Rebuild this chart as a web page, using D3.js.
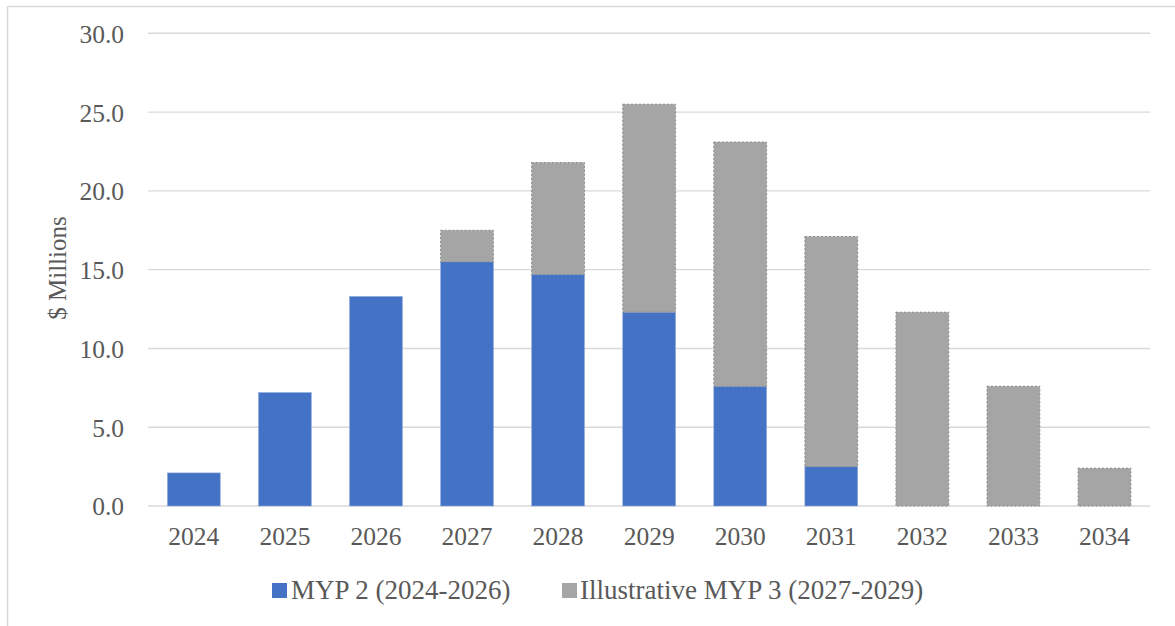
<!DOCTYPE html>
<html>
<head>
<meta charset="utf-8">
<script src="https://cdn.jsdelivr.net/npm/d3@7"></script>
<style>
  html, body { margin: 0; padding: 0; background: #fff; }
  svg { display: block; }
  text { font-family: "Liberation Serif", "Times New Roman", serif; fill: #595959; }
</style>
</head>
<body>
<svg id="chart" width="1175" height="626"></svg>
<script>
const years = ["2024","2025","2026","2027","2028","2029","2030","2031","2032","2033","2034"];
const myp2 = [2.1, 7.2, 13.3, 15.5, 14.7, 12.3, 7.6, 2.5, 0, 0, 0];
const myp3 = [0, 0, 0, 2.0, 7.1, 13.2, 15.5, 14.6, 12.3, 7.6, 2.4];
const seriesNames = ["MYP 2 (2024-2026)", "Illustrative MYP 3 (2027-2029)"];
const seriesColors = ["#4472C4", "#A5A5A5"];
const yTicks = [0, 5, 10, 15, 20, 25, 30];

const svg = d3.select("#chart");
const W = 1175, H = 626;
const plot = { left: 148.3, right: 1150, top: 33.3, bottom: 506 };

// frame
svg.append("line").attr("x1", 7.5).attr("x2", 7.5).attr("y1", 6.5).attr("y2", H)
  .attr("stroke", "#d9d9d9").attr("stroke-width", 1.5);
svg.append("line").attr("x1", 7.5).attr("x2", W).attr("y1", 6.5).attr("y2", 6.5)
  .attr("stroke", "#d9d9d9").attr("stroke-width", 1.5);

const x = d3.scaleBand().domain(years).range([plot.left, plot.right])
  .paddingInner(0.42).paddingOuter(0.21);
const y = d3.scaleLinear().domain([0, 30]).range([plot.bottom, plot.top]);

// gridlines
svg.append("g").selectAll("line").data(yTicks).join("line")
  .attr("x1", plot.left).attr("x2", plot.right)
  .attr("y1", d => y(d)).attr("y2", d => y(d))
  .attr("stroke", "#d9d9d9").attr("stroke-width", 1.4);

// y axis labels
const yAxis = d3.axisLeft(y).tickValues(yTicks).tickFormat(d3.format(".1f")).tickSize(0).tickPadding(0);
const gy = svg.append("g").attr("transform", `translate(${124},0)`).call(yAxis);
gy.select(".domain").remove();
gy.selectAll("text").attr("font-size", 25.5).attr("fill", "#595959")
  .style("font-family", '"Liberation Serif", serif').attr("dy", "0.35em");

// x axis labels
const xAxis = d3.axisBottom(x).tickSize(0).tickPadding(0);
const gx = svg.append("g").attr("transform", `translate(0,${527})`).call(xAxis);
gx.select(".domain").remove();
gx.selectAll("text").attr("font-size", 25.5).attr("fill", "#595959")
  .style("font-family", '"Liberation Serif", serif').attr("dy", "0.71em");

// stacked bars
const table = years.map((yr, i) => ({ year: yr, s0: myp2[i], s1: myp3[i] }));
const stack = d3.stack().keys(["s0", "s1"]);
const stacked = stack(table);

stacked.forEach((layer, li) => {
  svg.append("g").selectAll("rect").data(layer.filter(d => d[1] - d[0] > 0)).join("rect")
    .attr("x", d => x(d.data.year))
    .attr("width", x.bandwidth())
    .attr("y", d => y(d[1]))
    .attr("height", d => y(d[0]) - y(d[1]))
    .attr("fill", seriesColors[li])
    .attr("stroke", li === 0 ? "#8fa9dc" : "#8a8a8a")
    .attr("stroke-width", li === 0 ? 0.6 : 1)
    .attr("stroke-dasharray", li === 0 ? null : "2,2");
});

// y axis title
svg.append("text")
  .attr("transform", `translate(${66},${268}) rotate(-90)`)
  .attr("text-anchor", "middle")
  .attr("font-size", 25)
  .text("$ Millions");

// legend
const legendItems = [
  { name: seriesNames[0], color: seriesColors[0], sx: 272, tx: 291 },
  { name: seriesNames[1], color: seriesColors[1], sx: 562, tx: 580 }
];
const lg = svg.append("g");
legendItems.forEach(it => {
  lg.append("rect").attr("x", it.sx).attr("y", 583).attr("width", 15).attr("height", 15).attr("fill", it.color);
  lg.append("text").attr("x", it.tx).attr("y", 599).attr("font-size", 27)
    .attr("fill", "#595959").text(it.name);
});
</script>
</body>
</html>
